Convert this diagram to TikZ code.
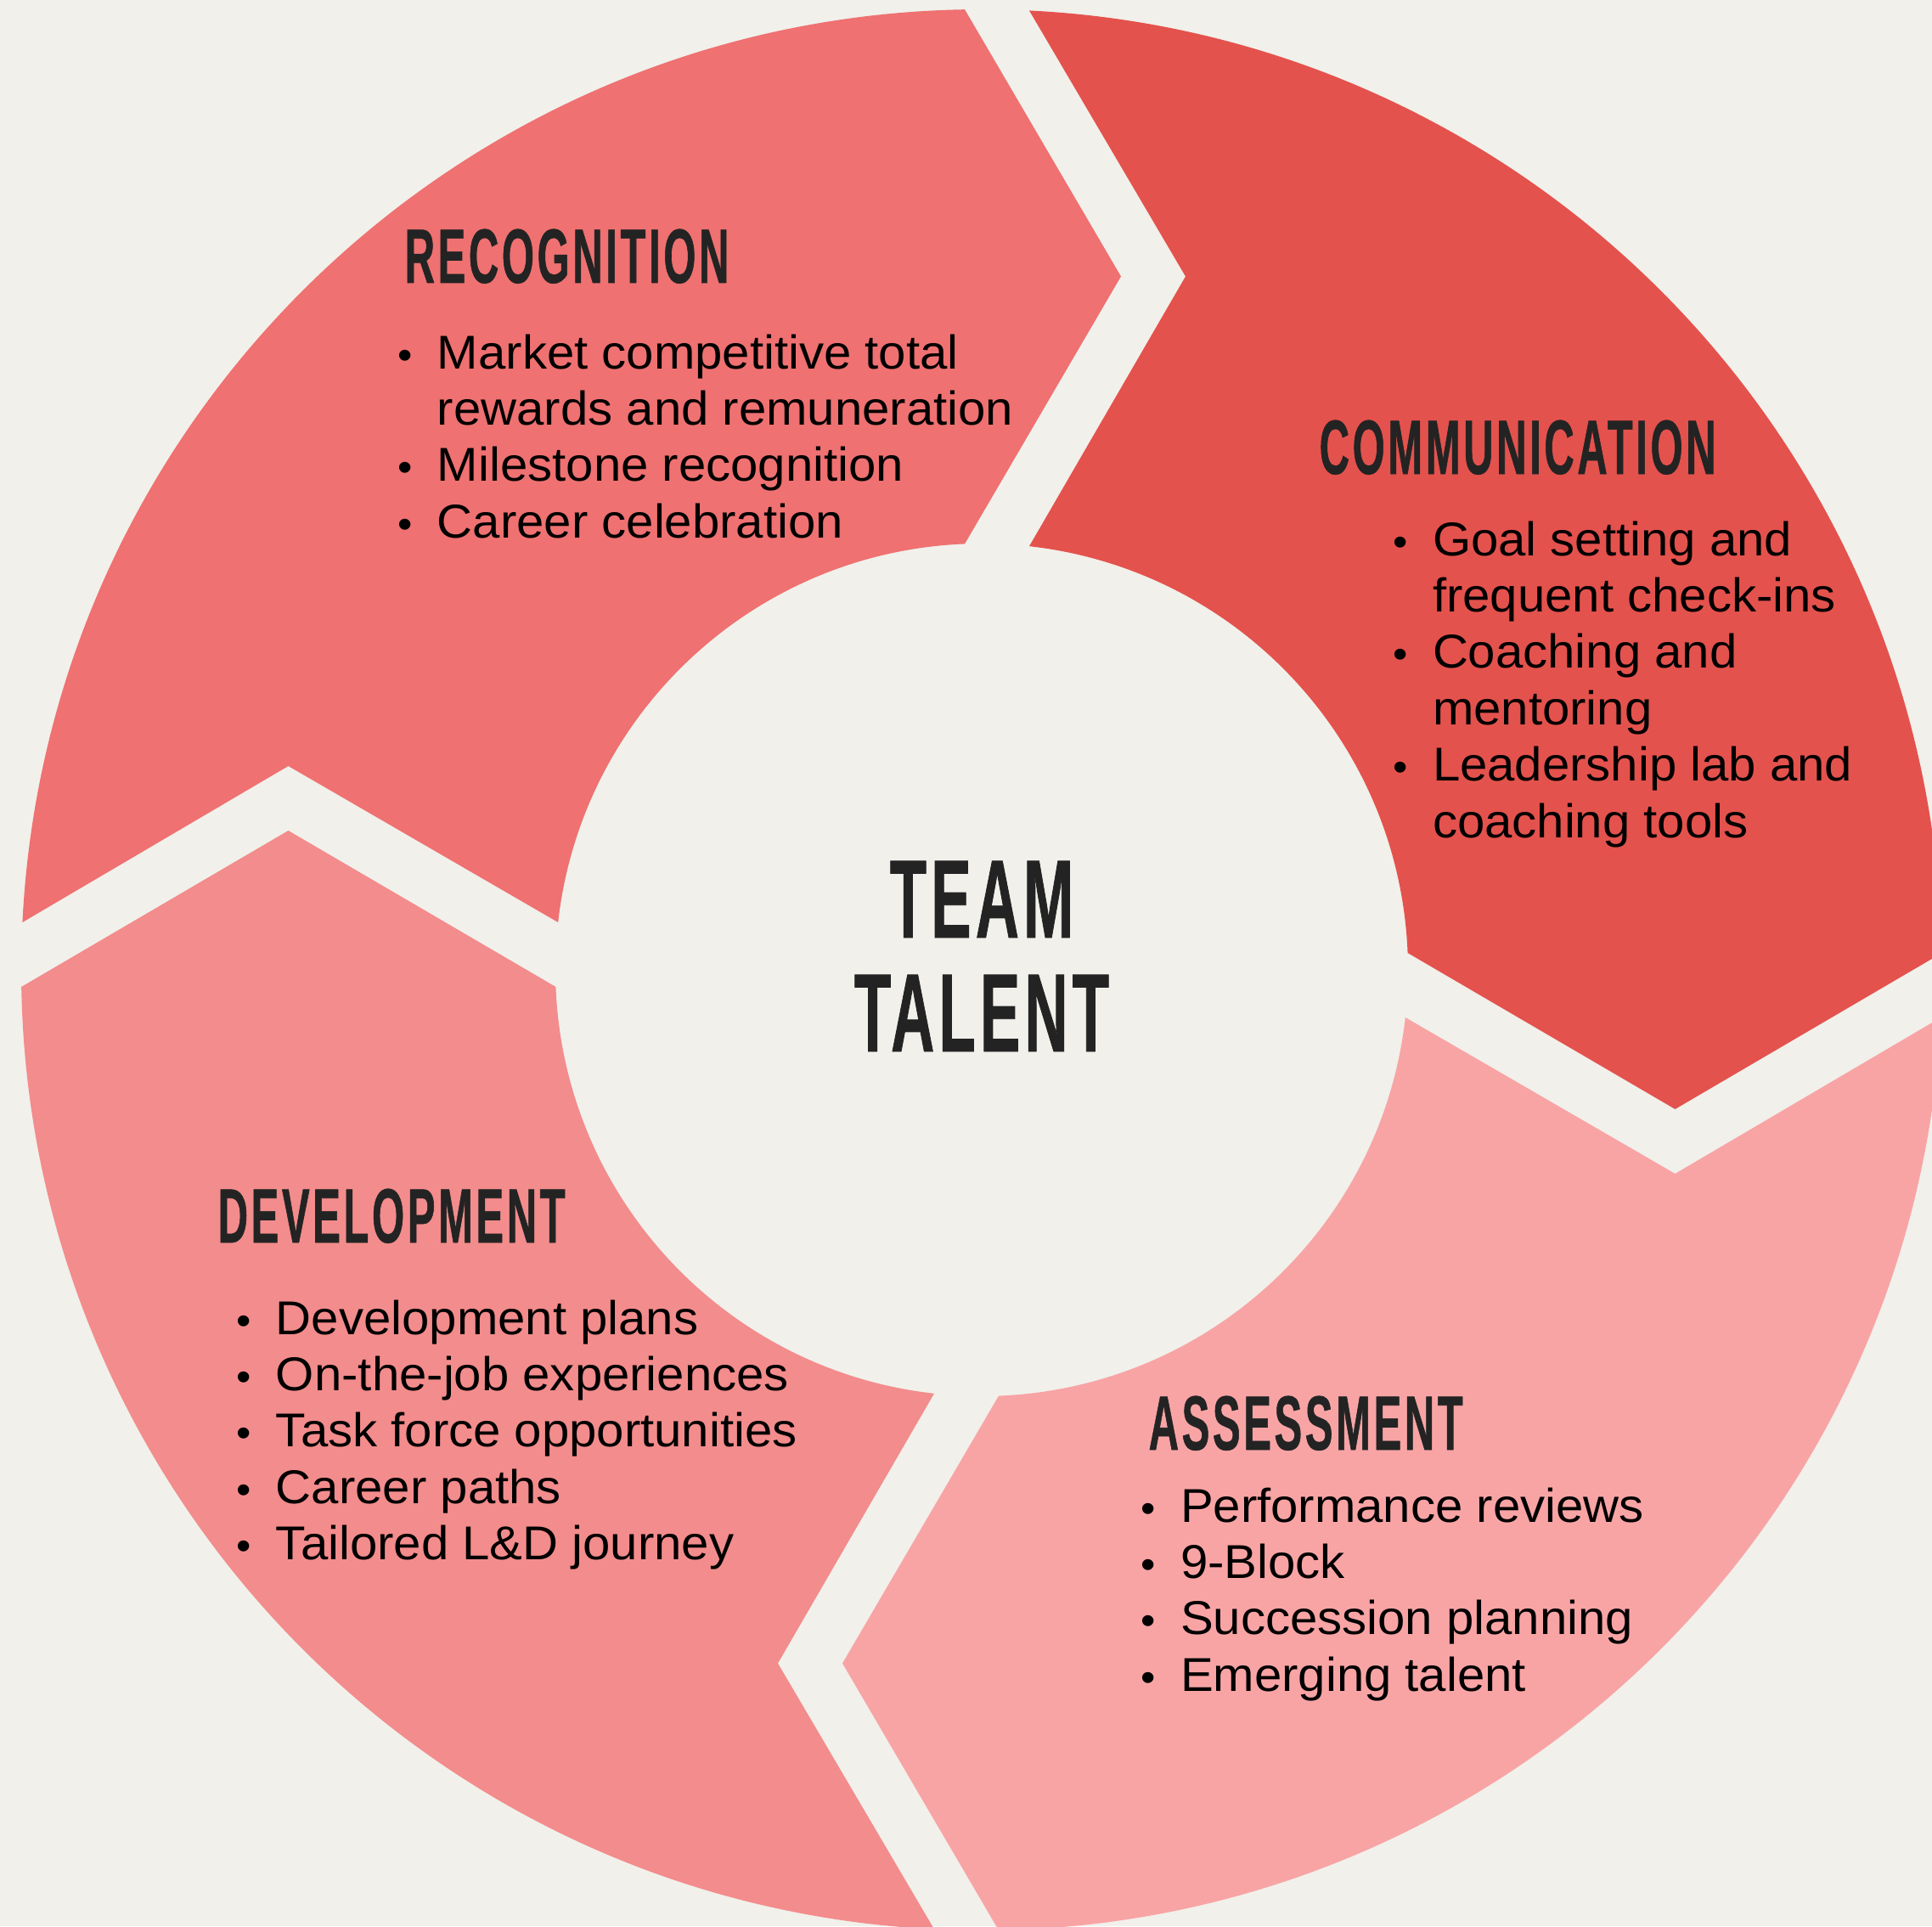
\documentclass[tikz,border=0pt]{standalone}
\usepackage{fontspec}
\setmainfont{Liberation Sans}[FakeStretch=1.04]
\newfontfamily\titrefont{Liberation Sans}[FakeStretch=0.54,FakeBold=0.6,LetterSpace=4]
\definecolor{fondgris}{RGB}{241,240,235}
\definecolor{roserecon}{RGB}{239,113,113}
\definecolor{rougecomm}{RGB}{228,82,77}
\definecolor{roseeval}{RGB}{248,164,165}
\definecolor{rosedev}{RGB}{243,140,140}
\definecolor{encre}{RGB}{35,35,35}
\newcommand{\puce}{\scalebox{0.85}{\textbullet}}
% un quart d'anneau : encoche au depart, pointe a l'arrivee (sens horaire)
\newcommand{\secteur}[2]{%
			{\pgfmathsetmacro{\ado}{180-asin(0.56/11.31)}%
					\pgfmathsetmacro{\afo}{90+asin(0.20/11.31)}%
					\pgfmathsetmacro{\afi}{90+asin(0.20/5.02)}%
					\pgfmathsetmacro{\adi}{180-asin(0.56/5.02)}%
					\begin{scope}[rotate=#1]
						\fill[#2] (\ado:11.31) arc[start angle=\ado, end angle=\afo, radius=11.31]
						-- (1.64,8.165) -- (\afi:5.02) arc[start angle=\afi, end angle=\adi, radius=5.02]
						-- (-8.165,2.40) -- cycle;
					\end{scope}}%
		}

\begin{document}
\begin{tikzpicture}[
			titre/.style={font=\titrefont\bfseries\fontsize{25.8}{30}\selectfont, text=encre, anchor=base west, inner sep=0pt},
			centre/.style={font=\titrefont\bfseries\fontsize{37.3}{40}\selectfont, text=encre, anchor=base, inner sep=0pt},
			liste/.style={font=\fontsize{15.9}{18.9}\selectfont, text=black, anchor=base west, inner sep=0pt}]
			\useasboundingbox (-11.56,-11.26) rectangle (11.19,11.42);
			\clip (-11.56,-11.26) rectangle (11.19,11.42);
			\fill[fondgris] (-11.56,-11.26) rectangle (11.19,11.42);
			\secteur{0}{roserecon}
			\secteur{-90}{rougecomm}
			\secteur{-180}{roseeval}
			\secteur{90}{rosedev}
			\node[centre] (team) at (0,0.38) {TEAM};
			\node[centre] (talent) at (0,-0.96) {TALENT};
			\begin{scope}
				\node[titre] (recon) at (-6.80,8.09) {RECOGNITION};
				\node[liste] (listerecon) at (-6.88,7.08) {\begin{tabular}[t]{@{}l@{\hspace{0.29cm}}l@{}}
						\puce & Market competitive total\\
						& rewards and remuneration\\
						\puce & Milestone recognition\\
						\puce & Career celebration
					\end{tabular}};
			\end{scope}
			\begin{scope}
				\node[titre] (comm) at (3.97,5.84) {COMMUNICATION};
				\node[liste] (listecomm) at (4.84,4.88) {\begin{tabular}[t]{@{}l@{\hspace{0.29cm}}l@{}}
						\puce & Goal setting and\\
						& frequent check-ins\\
						\puce & Coaching and\\
						& mentoring\\
						\puce & Leadership lab and\\
						& coaching tools
					\end{tabular}};
			\end{scope}
			\begin{scope}
				\node[titre] (eval) at (1.96,-5.65) {ASSESSMENT};
				\node[liste] (listeeval) at (1.87,-6.50) {\begin{tabular}[t]{@{}l@{\hspace{0.29cm}}l@{}}
						\puce & Performance reviews\\
						\puce & 9-Block\\
						\puce & Succession planning\\
						\puce & Emerging talent
					\end{tabular}};
			\end{scope}
			\begin{scope}
				\node[titre] (dev) at (-9.00,-3.21) {DEVELOPMENT};
				\node[liste] (listedev) at (-8.78,-4.29) {\begin{tabular}[t]{@{}l@{\hspace{0.29cm}}l@{}}
						\puce & Development plans\\
						\puce & On-the-job experiences\\
						\puce & Task force opportunities\\
						\puce & Career paths\\
						\puce & Tailored L\&D journey
					\end{tabular}};
			\end{scope}
		\end{tikzpicture}
\end{document}
